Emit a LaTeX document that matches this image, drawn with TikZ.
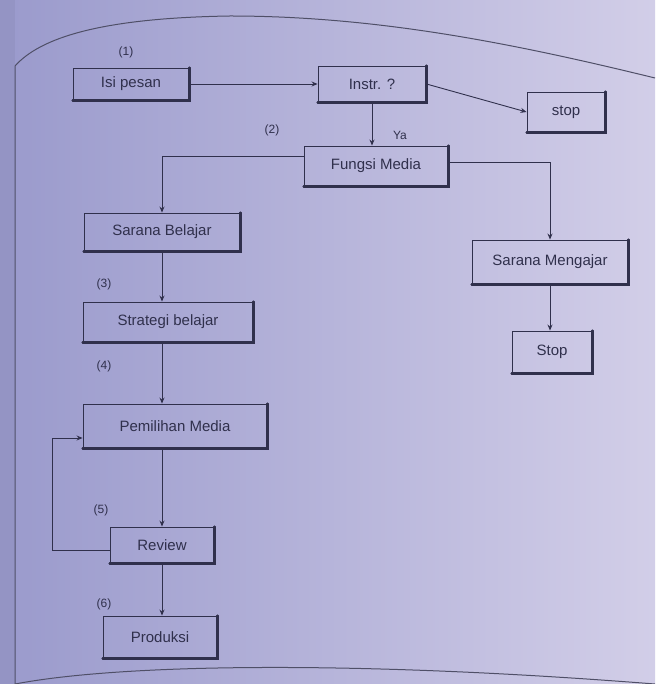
\documentclass[tikz,border=0pt]{standalone}
\usepackage{fontspec}
\setmainfont{Liberation Sans}
\usetikzlibrary{arrows.meta,calc}
\definecolor{ink}{HTML}{30304C}
\definecolor{bgl}{HTML}{9A9ACC}
\definecolor{bgr}{HTML}{D2CEE8}
\begin{document}
\begin{tikzpicture}[x=1pt,y=-1pt,
  box/.style={draw=ink,line width=0.9pt,minimum height=38pt,inner sep=2pt,
    font=\fontsize{15}{17}\selectfont,text=ink},
  num/.style={font=\fontsize{12}{14}\selectfont,text=ink,inner sep=1pt},
  conn/.style={draw=ink,line width=0.9pt},
  arr/.style={conn,-{Stealth[length=6pt,width=5pt]}}]
\useasboundingbox (0,0) rectangle (655,684);
\shade[left color=bgl,right color=bgr] (0,0) rectangle (655,684);
\fill[bgl!85!black,opacity=0.25] (0,0) rectangle (15,684);
% page frame
\draw[ink!85,line width=1pt] (15,684) -- (15,66)
  .. controls (40,38) and (100,18) .. (230,16)
  .. controls (380,16) and (520,45) .. (655,78);
\draw[ink!85,line width=1pt] (15,684) .. controls (120,664) and (350,660) .. (655,684);
% nodes
\node[box,minimum width=116pt,minimum height=32pt] (isi) at (131,84) {Isi pesan};
\node[box,minimum width=108pt,minimum height=36pt] (instr) at (372,84) {Instr. ?};
\node[box,minimum width=78pt,minimum height=40pt] (stopa) at (566,112) {stop};
\node[box,minimum width=144pt,minimum height=40pt] (fungsi) at (376,166) {Fungsi Media};
\node[box,minimum width=156pt] (sb) at (162,232) {Sarana Belajar};
\node[box,minimum width=170pt,minimum height=40pt] (sg) at (168,322) {Strategi belajar};
\node[box,minimum width=184pt,minimum height=44pt] (pm) at (175,426) {Pemilihan Media};
\node[box,minimum width=104pt,minimum height=36pt] (rv) at (162,545) {Review};
\node[box,minimum width=114pt,minimum height=42pt] (prod) at (160,637) {Produksi};
\node[box,minimum width=156pt,minimum height=44pt] (sm) at (550,262) {Sarana Mengajar};
\node[box,minimum width=80pt,minimum height=42pt] (stopb) at (552,352) {Stop};
% heavier bottom/right edges
\foreach \n in {isi,instr,stopa,fungsi,sb,sg,pm,rv,prod,sm,stopb}
  \draw[ink,line width=2.2pt,line cap=round] (\n.south west) -- (\n.south east) -- (\n.north east);
% labels
\node[num] (n1) at (126,52) {(1)};
\node[num] (n2) at (272,130) {(2)};
\node[num] (ya) at (400,135) {Ya};
\node[num] (n3) at (104,284) {(3)};
\node[num] (n4) at (104,366) {(4)};
\node[num] (n5) at (101,510) {(5)};
\node[num] (n6) at (104,604) {(6)};
% connectors
\draw[arr] (isi.east) -- (instr.west);
\draw[arr] (instr.east) -- (stopa.west);
\draw[arr] (instr.south) -- (instr.south |- fungsi.north);
\draw[arr] ([yshift=10pt]fungsi.west) -| (sb.north);
\draw[arr] ([yshift=4pt]fungsi.east) -| (sm.north);
\draw[arr] (sb.south) -- (sb.south |- sg.north);
\draw[arr] (sb.south |- sg.south) -- (sb.south |- pm.north);
\draw[arr] (sb.south |- pm.south) -- (sb.south |- rv.north);
\draw[arr] (rv.south) -- (rv.south |- prod.north);
\coordinate (lp) at (52,550);
\draw[arr] (rv.west |- lp) -- (lp) |- ([yshift=-12pt]pm.west);
\draw[arr] (sm.south) -- (sm.south |- stopb.north);
\end{tikzpicture}
\end{document}
